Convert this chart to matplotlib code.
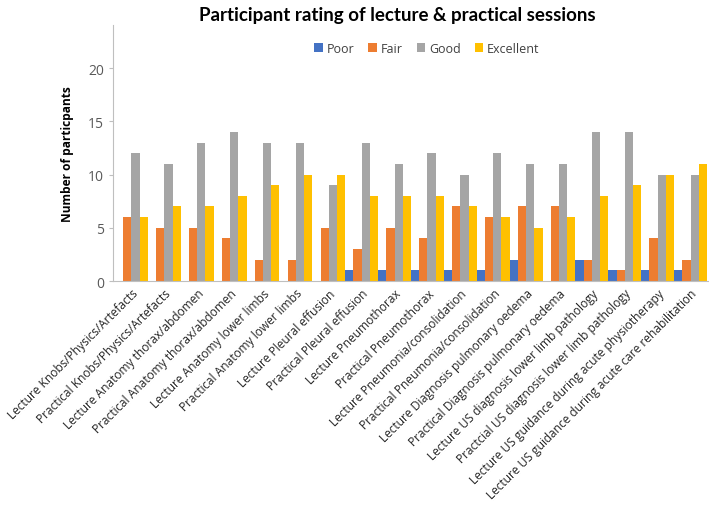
import numpy as np
import matplotlib
matplotlib.use("Agg")
import matplotlib.pyplot as plt

plt.rcParams['font.family'] = ['Open Sans', 'DejaVu Sans']

sessions = [
    "Lecture Knobs/Physics/Artefacts",
    "Practical Knobs/Physics/Artefacts",
    "Lecture Anatomy thorax/abdomen",
    "Practical Anatomy thorax/abdomen",
    "Lecture Anatomy lower limbs",
    "Practical Anatomy lower limbs",
    "Lecture Pleural effusion",
    "Practical Pleural effusion",
    "Lecture Pneumothorax",
    "Practical Pneumothorax",
    "Lecture Pneumonia/consolidation",
    "Practical Pneumonia/consolidation",
    "Lecture Diagnosis pulmonary oedema",
    "Practical Diagnosis pulmonary oedema",
    "Lecture US diagnosis lower limb pathology",
    "Practcial US diagnosis lower limb pathology",
    "Lecture US guidance during acute physiotherapy",
    "Lecture US guidance during acute care rehabilitation",
]
poor = [0, 0, 0, 0, 0, 0, 0, 1, 1, 1, 1, 1, 2, 0, 2, 1, 1, 1]
fair = [6, 5, 5, 4, 2, 2, 5, 3, 5, 4, 7, 6, 7, 7, 2, 1, 4, 2]
good = [12, 11, 13, 14, 13, 13, 9, 13, 11, 12, 10, 12, 11, 11, 14, 14, 10, 10]
excellent = [6, 7, 7, 8, 9, 10, 10, 8, 8, 8, 7, 6, 5, 6, 8, 9, 10, 11]

series = [("Poor", poor, "#4472C4"), ("Fair", fair, "#ED7D31"),
          ("Good", good, "#A5A5A5"), ("Excellent", excellent, "#FFC000")]

fig = plt.figure(figsize=(7.09, 5.06), dpi=100)
ax = fig.add_axes([113 / 709, 1 - 282 / 506, 1 - 113 / 709, (282 - 26.4) / 506])

x = np.arange(len(sessions))
w = 0.25
for k, (name, vals, col) in enumerate(series):
    ax.bar(x + (k - 1.5) * w, vals, w, color=col, label=name)

ax.set_xlim(-0.56, len(sessions) - 0.44)
ax.set_ylim(0, 24)
ax.set_yticks([0, 5, 10, 15, 20])
ax.tick_params(axis="y", labelsize=10, colors="#595959", length=3, color="#bfbfbf")
ax.tick_params(axis="x", length=0, labelsize=8.6, colors="#262626", pad=4)
ax.set_xticks(x)
ax.set_xticklabels(sessions, rotation=45, ha="right", rotation_mode="anchor")

for s in ["top", "right"]:
    ax.spines[s].set_visible(False)
ax.spines["left"].set_color("#bfbfbf")
ax.spines["bottom"].set_color("#bfbfbf")

ax.set_ylabel("Number of particpants", fontsize=8.6, fontweight="bold", labelpad=10)
fig.text(397 / 709, 1 - 15 / 506, "Participant rating of lecture & practical sessions",
         ha="center", va="center", fontsize=13.5, fontweight="bold", family="Lato")

ax.legend(loc="center", bbox_to_anchor=((427 - 113) / (709 - 113), (282 - 49) / (282 - 26.4)),
          ncol=4, frameon=False, fontsize=9, handlelength=0.7, handleheight=0.7,
          handletextpad=0.3, columnspacing=1.1, labelcolor="#404040")

fig.savefig("out.png", dpi=100)
